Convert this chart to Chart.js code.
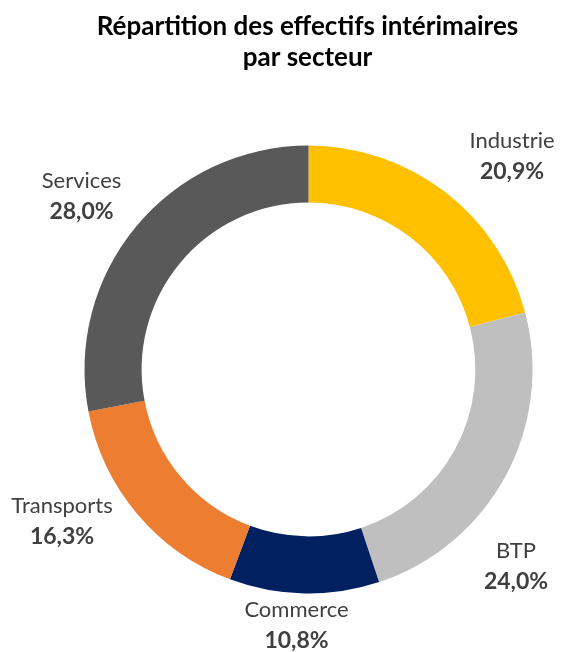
<!DOCTYPE html>
<html>
<head>
<meta charset="utf-8">
<script src="https://cdn.jsdelivr.net/npm/chart.js@4.4.1/dist/chart.umd.min.js"></script>
<style>
  html, body { margin: 0; padding: 0; background: #fff; }
  #wrap { width: 563px; height: 652px; position: relative; }
</style>
</head>
<body>
<div id="wrap"><canvas id="myChart" width="563" height="652"></canvas></div>
<script>
const titleLines = ["Répartition des effectifs intérimaires", "par secteur"];
const sectors = ["Industrie", "BTP", "Commerce", "Transports", "Services"];
const shares = [20.9, 24.0, 10.8, 16.3, 28.0];
const colors = ["#FFC000", "#BFBFBF", "#002060", "#ED7D31", "#595959"];

// label anchor, relative to the ring centre (name line; value sits below)
const labelOffsets = [
  [203.5, -228.5],
  [207.5, 181.5],
  [-12, 240.5],
  [-246.5, 136.5],
  [-227, -188.5],
];

const FONT = "Lato, 'Open Sans', sans-serif";

const labelsPlugin = {
  id: "outerLabels",
  afterDraw(chart) {
    const ctx = chart.ctx;
    const arcs = chart.getDatasetMeta(0).data;
    ctx.save();
    ctx.textAlign = "center";
    ctx.textBaseline = "middle";

    // title
    ctx.fillStyle = "#000";
    ctx.font = "bold 26px " + FONT;
    ctx.fillText(titleLines[0], 307.5, 27);
    ctx.fillText(titleLines[1], 307.5, 58);

    arcs.forEach((arc, i) => {
      const x = arc.x + labelOffsets[i][0];
      const y = arc.y + labelOffsets[i][1];
      ctx.fillStyle = "#404040";
      ctx.font = "22px " + FONT;
      ctx.fillText(sectors[i], x, y);
      ctx.font = "bold 23px " + FONT;
      ctx.fillText(shares[i].toFixed(1).replace(".", ",") + "%", x, y + 31);
    });
    ctx.restore();
  },
};

document.addEventListener("DOMContentLoaded", () => {
  new Chart("myChart", {
    type: "doughnut",
    data: {
      labels: sectors,
      datasets: [
        {
          data: shares,
          backgroundColor: colors,
          borderWidth: 0,
          hoverOffset: 0,
        },
      ],
    },
    options: {
      responsive: false,
      animation: false,
      cutout: "74.5%",
      rotation: 0,
      layout: {
        padding: { left: 84.5, right: 30.5, top: 145.5, bottom: 58.5 },
      },
      plugins: {
        legend: { display: false },
        title: { display: false },
        tooltip: { enabled: false },
      },
    },
    plugins: [labelsPlugin],
  });
});
</script>
</body>
</html>
